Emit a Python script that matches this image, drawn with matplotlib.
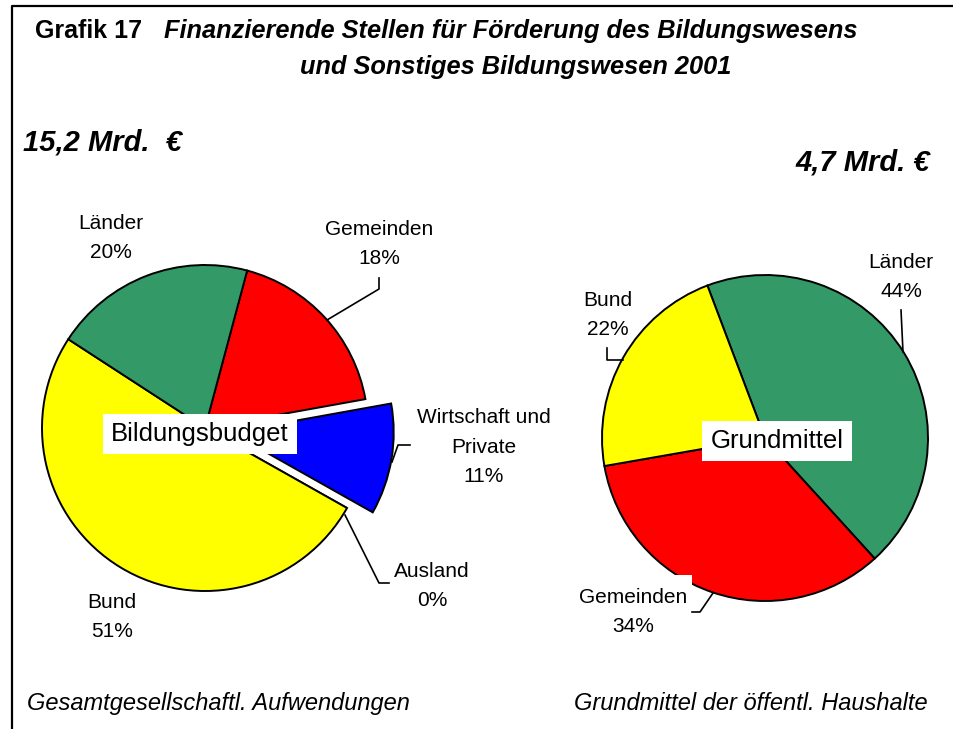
import matplotlib.pyplot as plt
from matplotlib.patches import Rectangle

plt.rcParams['font.family'] = ['Liberation Sans', 'DejaVu Sans']

# Bildungsbudget (gesamtgesellschaftl. Aufwendungen), 15,2 Mrd. EUR
left_names = ['Gemeinden', 'Wirtschaft und\nPrivate', 'Ausland', 'Bund', 'Länder']
left_pct = [18, 11, 0, 51, 20]
left_colors = ['#ff0000', '#0000ff', '#ffffff', '#ffff00', '#339966']
left_explode = [0, 0.16, 0, 0, 0]

# Grundmittel der oeffentl. Haushalte, 4,7 Mrd. EUR
right_names = ['Länder', 'Gemeinden', 'Bund']
right_pct = [44, 34, 22]
right_colors = ['#339966', '#ff0000', '#ffff00']

W, H = 954, 729
R = 163  # pie radius in px

fig = plt.figure(figsize=(W / 100, H / 100), dpi=100)


def pie_axes(cx, cy):
    # axes of 2.5 radii, centred on (cx, cy) given in px from the top left
    side = 2.5 * R
    ax = fig.add_axes([(cx - side / 2) / W, (H - cy - side / 2) / H, side / W, side / H])
    return ax


axL = pie_axes(205, 428)
axL.pie(left_pct, colors=left_colors, startangle=75, counterclock=False,
        explode=left_explode, wedgeprops=dict(edgecolor='black', linewidth=1.4))
axL.set_xlim(-1.25, 1.25)
axL.set_ylim(-1.25, 1.25)

axR = pie_axes(765, 438)
axR.pie(right_pct, colors=right_colors, startangle=110.7, counterclock=False,
        wedgeprops=dict(edgecolor='black', linewidth=1.4))
axR.set_xlim(-1.25, 1.25)
axR.set_ylim(-1.25, 1.25)

# overlay in pixel coordinates for texts, leaders and frame
ov = fig.add_axes([0, 0, 1, 1], zorder=3)
ov.set_xlim(0, W)
ov.set_ylim(H, 0)
ov.axis('off')

# frame (top and left)
ov.plot([12, 12, W], [H, 6, 6], color='black', lw=1.6, clip_on=False)

ov.text(35, 31, 'Grafik 17', fontsize=18, fontweight='bold', va='center')
ov.text(164, 31, 'Finanzierende Stellen für Förderung des Bildungswesens',
        fontsize=18.3, fontweight='bold', style='italic', va='center')
ov.text(516, 67, 'und Sonstiges Bildungswesen 2001', fontsize=18.3,
        fontweight='bold', style='italic', va='center', ha='center')
ov.text(23, 142, '15,2 Mrd.  €', fontsize=21, fontweight='bold', style='italic', va='center')
ov.text(930, 162, '4,7 Mrd. €', fontsize=21, fontweight='bold', style='italic',
        va='center', ha='right')

ov.text(27, 710, 'Gesamtgesellschaftl. Aufwendungen', fontsize=17, style='italic', va='baseline')
ov.text(928, 710, 'Grundmittel der öffentl. Haushalte', fontsize=17, style='italic',
        va='baseline', ha='right')

lab = dict(fontsize=15, ha='center', va='center', linespacing=1.7)

left_pos = [(379, 244), (484, 447), (432, 586), (112, 617), (111, 238)]
for name, p, (x, y) in zip(left_names, left_pct, left_pos):
    ov.text(x, y, f'{name}\n{p}%', **lab)

right_pos = [(901, 277), (633, 612), (608, 315)]
for name, p, (x, y) in zip(right_names, right_pct, right_pos):
    ov.text(x, y, f'{name}\n{p}%', **lab)

# leader lines
leaders = [
    [(327, 320), (379, 289), (379, 278)],
    [(392, 462), (398, 445), (410, 445)],
    [(345, 515), (379, 583), (389, 583)],
    [(903, 352), (901, 310)],
    [(623, 360), (607, 360), (607, 348)],
    [(713, 593), (700, 612), (692, 612)],
]
for pts in leaders:
    xs, ys = zip(*pts)
    ov.plot(xs, ys, color='black', lw=1.2)

ov.add_patch(Rectangle((672, 575), 20, 17, facecolor='white', edgecolor='none'))

box = dict(facecolor='white', edgecolor='none', pad=6)
ov.text(200, 434, 'Bildungsbudget', fontsize=18.5, ha='center', va='center', bbox=box)
ov.text(777, 441, 'Grundmittel', fontsize=18.5, ha='center', va='center', bbox=box)

fig.savefig('out.png', dpi=100, facecolor='white')
